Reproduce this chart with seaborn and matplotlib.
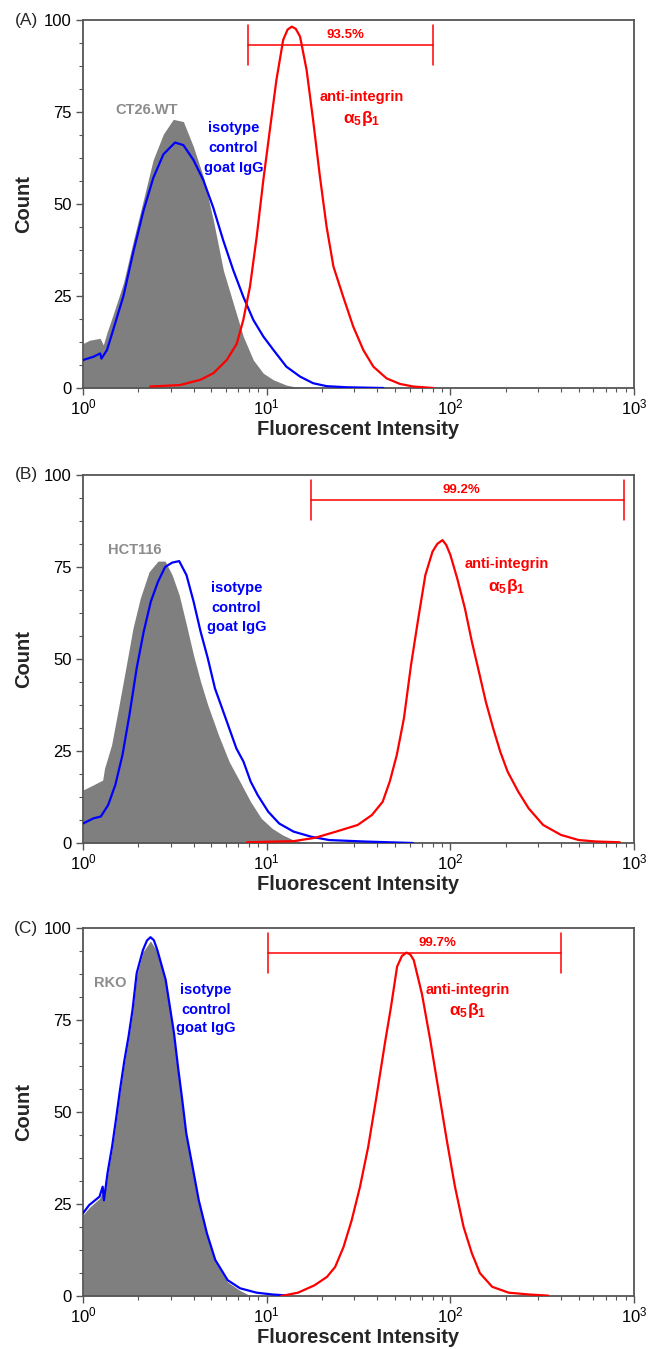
import matplotlib
matplotlib.use('Agg')
import matplotlib.pyplot as plt
import seaborn as sns
import pandas as pd
from matplotlib.ticker import MultipleLocator, LogLocator, NullFormatter, FixedLocator

# ---------------- data ----------------
# Panel A : CT26.WT
a_gray_x = [1.00, 1.09, 1.24, 1.29, 1.35, 1.46, 1.66, 1.88, 2.13, 2.41, 2.74, 3.10, 3.52, 3.99,
            4.52, 5.12, 5.81, 6.58, 7.46, 8.46, 9.59, 10.9, 12.8, 15.2]
a_gray_y = [12.1, 13.0, 13.5, 11.7, 15.0, 20.0, 28.5, 40.0, 51.0, 62.0, 69.0, 73.0, 72.4, 65.6,
            57.4, 45.7, 32.0, 23.0, 14.0, 7.6, 4.0, 2.2, 0.8, 0.0]
a_blue_x = [1.00, 1.14, 1.24, 1.26, 1.35, 1.46, 1.66, 1.88, 2.13, 2.41, 2.74, 3.17, 3.52, 3.99,
            4.52, 5.12, 5.81, 6.58, 7.46, 8.46, 9.59, 10.9, 12.8, 15.2, 17.9, 21.2, 27.3, 43.2]
a_blue_y = [7.6, 8.5, 9.4, 8.0, 10.3, 15.8, 25.0, 37.0, 48.0, 57.0, 63.5, 66.7, 66.0, 62.0,
            56.5, 49.0, 40.0, 32.0, 24.8, 18.5, 14.0, 10.3, 5.8, 3.1, 1.3, 0.5, 0.2, 0.0]
a_red_x = [2.32, 3.37, 4.34, 5.12, 6.06, 6.87, 7.46, 8.11, 8.82, 9.59, 10.4, 11.3, 12.3, 13.0,
           13.7, 14.4, 15.2, 16.5, 17.9, 19.5, 21.2, 23.1, 26.1, 29.6, 33.6, 38.1, 45.0, 53.2,
           62.9, 80.8]
a_red_y = [0.4, 0.8, 2.2, 4.0, 7.6, 12.0, 18.5, 27.5, 41.0, 56.5, 70.0, 83.7, 94.6, 97.4,
           98.2, 97.6, 95.5, 86.4, 72.8, 57.4, 43.8, 33.0, 24.8, 16.7, 10.3, 5.8, 2.6, 1.1,
           0.4, 0.0]
a_gate = [7.91, 80.4]
a_pct = "93.5%"
a_cell = "CT26.WT"

# Panel B : HCT116
b_gray_x = [1.00, 1.14, 1.28, 1.31, 1.43, 1.56, 1.71, 1.87, 2.05, 2.29, 2.56, 2.80, 3.06, 3.34,
            3.66, 4.00, 4.37, 4.78, 5.47, 6.25, 7.15, 8.18, 9.35, 10.7, 12.2, 14.0, 16.7]
b_gray_y = [14.4, 15.8, 17.1, 20.3, 26.6, 36.6, 47.5, 58.3, 66.5, 73.7, 76.6, 76.6, 72.8, 67.4,
            59.2, 51.0, 43.8, 37.5, 29.3, 22.1, 16.7, 11.2, 6.7, 4.0, 2.2, 0.8, 0.0]
b_blue_x = [1.00, 1.14, 1.25, 1.37, 1.50, 1.64, 1.79, 1.96, 2.14, 2.34, 2.56, 2.80, 3.06, 3.34,
            3.66, 4.00, 4.37, 4.78, 5.23, 5.72, 6.25, 6.84, 7.48, 8.18, 8.94, 10.2, 11.7, 14.0,
            17.5, 21.9, 34.2, 62.5]
b_blue_y = [5.3, 6.7, 7.2, 10.3, 15.8, 23.9, 34.8, 47.5, 57.4, 65.6, 71.0, 75.0, 76.2, 76.6,
            72.8, 65.6, 57.4, 50.2, 42.0, 36.6, 31.2, 25.7, 22.1, 16.7, 13.0, 8.5, 5.3, 3.1,
            1.7, 0.8, 0.4, 0.0]
b_red_x = [7.82, 14.0, 18.3, 23.9, 31.3, 37.4, 42.8, 46.8, 51.1, 55.9, 61.1, 66.9, 73.1, 80.0,
           85.0, 90.6, 95.0, 100, 109, 120, 131, 143, 156, 171, 187, 205, 234, 267, 320, 400,
           500, 625, 836]
b_red_y = [0.2, 0.5, 1.4, 3.1, 4.9, 7.6, 11.2, 16.7, 23.9, 33.9, 48.4, 61.0, 72.8, 79.2,
           81.3, 82.3, 81.0, 78.3, 71.9, 63.8, 54.7, 46.6, 38.4, 31.2, 24.8, 19.4, 14.0, 9.4,
           4.9, 2.2, 0.8, 0.4, 0.2]
b_gate = [17.5, 887]
b_pct = "99.2%"
b_cell = "HCT116"

# Panel C : RKO
c_gray_x = [1.00, 1.08, 1.23, 1.28, 1.30, 1.36, 1.44, 1.51, 1.59, 1.68, 1.77, 1.86, 1.96, 2.12,
            2.33, 2.54, 2.82, 3.13, 3.29, 3.47, 3.65, 3.95, 4.27, 4.73, 5.25, 6.13, 7.16, 8.20]
c_gray_y = [22.0, 24.0, 26.5, 28.5, 26.0, 33.0, 40.0, 47.0, 55.5, 63.5, 70.0, 77.0, 87.0, 93.5,
            96.5, 93.5, 85.0, 70.5, 61.5, 52.5, 43.5, 34.5, 25.5, 16.5, 9.3, 3.8, 1.5, 0.0]
c_blue_x = [1.00, 1.08, 1.23, 1.28, 1.30, 1.36, 1.44, 1.51, 1.59, 1.68, 1.77, 1.86, 1.96, 2.12,
            2.23, 2.33, 2.43, 2.54, 2.82, 3.13, 3.29, 3.47, 3.65, 3.95, 4.27, 4.73, 5.25, 6.13,
            7.16, 8.82, 10.8, 12.5]
c_blue_y = [22.5, 24.7, 27.0, 29.7, 26.0, 33.4, 40.6, 47.8, 56.0, 64.0, 70.5, 77.7, 87.7, 94.0,
            96.6, 97.5, 96.7, 94.0, 85.9, 71.4, 62.3, 53.3, 44.2, 35.1, 26.0, 17.0, 9.8, 4.3,
            2.1, 0.9, 0.4, 0.2]
c_red_x = [12.0, 14.8, 18.2, 21.3, 23.6, 26.2, 29.0, 32.2, 35.7, 39.6, 44.0, 47.5, 51.3, 54.5,
           57.8, 60.5, 63.2, 70.1, 77.7, 86.2, 95.6, 106, 118, 131, 145, 169, 208, 270, 341]
c_red_y = [0.0, 0.9, 2.9, 5.2, 7.9, 13.3, 20.5, 29.6, 40.5, 54.1, 68.6, 78.5, 89.5, 92.4,
           93.3, 92.8, 91.3, 82.0, 69.6, 56.0, 42.4, 29.7, 18.8, 11.6, 6.2, 2.5, 0.9, 0.4, 0.1]
c_gate = [10.2, 402]
c_pct = "99.7%"
c_cell = "RKO"

panel_tags = ["(A)", "(B)", "(C)"]
iso_lines = ["isotype", "control", "goat IgG"]
anti_label = "anti-integrin"
ab_label = r"α$_{\mathbf{5}}$β$_{\mathbf{1}}$"
x_ticks = [1, 10, 100, 1000]
y_ticks = [0, 25, 50, 75, 100]

# ---------------- style ----------------
sns.set_style("ticks")
plt.rcParams['font.family'] = ['Liberation Sans', 'DejaVu Sans']
plt.rcParams['mathtext.fontset'] = 'custom'
plt.rcParams['mathtext.rm'] = 'Liberation Sans'
plt.rcParams['mathtext.bf'] = 'Liberation Sans:bold'
plt.rcParams['mathtext.it'] = 'Liberation Sans:italic'

GRAY_FILL = '#7f7f7f'
BLUE = '#0000ff'
RED = '#ff0000'
GRAY_TXT = '#8c8c8c'
SPINE = '#555555'

fig = plt.figure(figsize=(6.49, 13.49), dpi=100)
W, H = 649.0, 1349.0
ax_left, ax_right = 83, 634
bottoms = [388, 843, 1296]
ax_h = 368

panels = [
    dict(gx=a_gray_x, gy=a_gray_y, bx=a_blue_x, by=a_blue_y, rx=a_red_x, ry=a_red_y,
         gate=a_gate, pct=a_pct, cell=a_cell, pct_x=26.7,
         cell_pos=(2.23, 75.5), iso_pos=(6.58, [70.6, 65.2, 59.8]),
         anti_pos=(32.9, 79.2, 73.3)),
    dict(gx=b_gray_x, gy=b_gray_y, bx=b_blue_x, by=b_blue_y, rx=b_red_x, ry=b_red_y,
         gate=b_gate, pct=b_pct, cell=b_cell, pct_x=115,
         cell_pos=(1.91, 79.6), iso_pos=(6.84, [69.2, 63.8, 58.8]),
         anti_pos=(202, 75.7, 69.7)),
    dict(gx=c_gray_x, gy=c_gray_y, bx=c_blue_x, by=c_blue_y, rx=c_red_x, ry=c_red_y,
         gate=c_gate, pct=c_pct, cell=c_cell, pct_x=85.3,
         cell_pos=(1.40, 85.0), iso_pos=(4.66, [83.2, 77.7, 72.8]),
         anti_pos=(124, 83.2, 77.7)),
]

for i, p in enumerate(panels):
    ax = fig.add_axes([ax_left / W, 1 - bottoms[i] / H, (ax_right - ax_left) / W, ax_h / H])
    ax.set_xscale('log')
    # grey filled histogram (unstained cells)
    ax.fill_between(p['gx'], 0, p['gy'], color=GRAY_FILL, lw=0, zorder=1)
    dfb = pd.DataFrame({'x': p['bx'], 'y': p['by']})
    dfr = pd.DataFrame({'x': p['rx'], 'y': p['ry']})
    sns.lineplot(data=dfb, x='x', y='y', ax=ax, color=BLUE, lw=1.6, estimator=None, zorder=3)
    sns.lineplot(data=dfr, x='x', y='y', ax=ax, color=RED, lw=1.6, estimator=None, zorder=4)

    # gate bracket
    g0, g1 = p['gate']
    ax.plot([g0, g1], [93.2, 93.2], color=RED, lw=1.1, zorder=5)
    ax.plot([g0, g0], [87.8, 98.6], color=RED, lw=1.1, zorder=5)
    ax.plot([g1, g1], [87.8, 98.6], color=RED, lw=1.1, zorder=5)
    ax.text(p['pct_x'], 96.0, p['pct'], color=RED, fontsize=9.5, fontweight='bold',
            ha='center', va='center', zorder=6)

    # annotations
    cx, cy = p['cell_pos']
    ax.text(cx, cy, p['cell'], color=GRAY_TXT, fontsize=10.5, fontweight='bold',
            ha='center', va='center')
    ix, iys = p['iso_pos']
    for line, yy in zip(iso_lines, iys):
        ax.text(ix, yy, line, color=BLUE, fontsize=10.5, fontweight='bold',
                ha='center', va='center')
    axx, ay1, ay2 = p['anti_pos']
    ax.text(axx, ay1, anti_label, color=RED, fontsize=10.5, fontweight='bold',
            ha='center', va='center')
    ax.text(axx, ay2, ab_label, color=RED, fontsize=12.5, fontweight='bold',
            ha='center', va='center')

    ax.set_xlim(1, 1000)
    ax.set_ylim(0, 100)
    ax.xaxis.set_major_locator(FixedLocator(x_ticks))
    ax.xaxis.set_minor_locator(LogLocator(base=10, subs=range(2, 10), numticks=20))
    ax.xaxis.set_minor_formatter(NullFormatter())
    ax.yaxis.set_major_locator(FixedLocator(y_ticks))
    ax.yaxis.set_minor_locator(MultipleLocator(6.25))
    ax.tick_params(axis='both', which='major', length=5, width=1, color=SPINE,
                   labelsize=12, labelcolor='black', direction='out')
    ax.tick_params(axis='both', which='minor', length=3, width=0.8, color=SPINE, direction='out')
    ax.tick_params(axis='x', which='major', pad=2)
    ax.tick_params(axis='y', which='major', pad=3)
    for s in ax.spines.values():
        s.set_color(SPINE)
        s.set_linewidth(1.3)
        s.set_visible(True)
    ax.set_xlabel('Fluorescent Intensity', fontsize=14.5, fontweight='bold', labelpad=2)
    ax.set_ylabel('Count', fontsize=14.5, fontweight='bold', labelpad=8)
    ax.text(-0.082, 1.0, panel_tags[i], transform=ax.transAxes, fontsize=12.5,
            ha='right', va='center')

fig.savefig('out.png', dpi=100)
